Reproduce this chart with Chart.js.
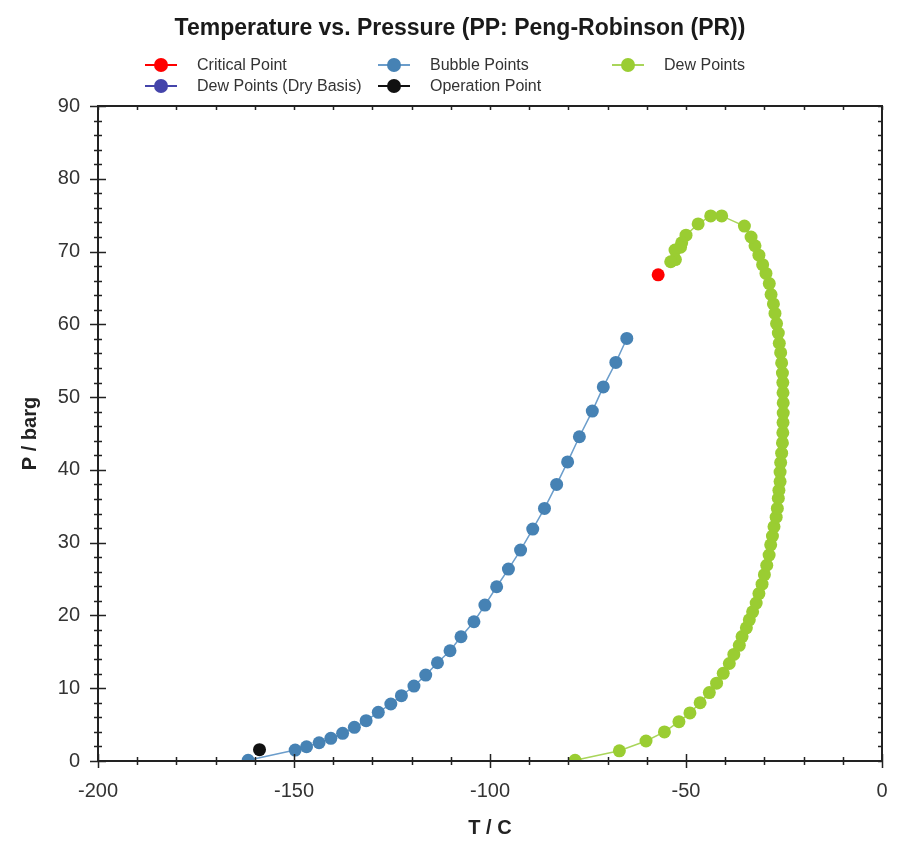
<!DOCTYPE html>
<html>
<head>
<meta charset="utf-8">
<script src="https://cdn.jsdelivr.net/npm/chart.js@4"></script>
<style>
  body { margin: 0; background: #fff; }
  #wrap { position: relative; width: 897px; height: 841px; }
  #title { position: absolute; left: 0; top: 14px; width: 920px; text-align: center;
           font: bold 23px "Liberation Sans", Arial, sans-serif; color: #1a1a1a; }
  .item { position: absolute; display: flex; align-items: center; height: 20px;
          font: 16px "Liberation Sans", Arial, sans-serif; color: #333; white-space: nowrap; }
  .mark { position: relative; width: 32px; height: 14px; margin-right: 20px; }
  .mark .ln { position: absolute; left: 0; right: 0; top: 6px; height: 2px; }
  .mark .dot { position: absolute; left: 9px; top: 0; width: 14px; height: 14px; border-radius: 50%; }
</style>
</head>
<body>
<div id="wrap">
  <canvas id="myChart" width="897" height="841"></canvas>
  <div id="title">Temperature vs. Pressure (PP: Peng-Robinson (PR))</div>
  <div id="legend"></div>
</div>
<script>
// values (T in C, P in barg)
const bubbleT = [-161.7, -149.7, -146.8, -143.6, -140.6, -137.6, -134.6, -131.6, -128.5, -125.3,
                 -122.6, -119.4, -116.4, -113.4, -110.2, -107.4, -104.1, -101.3, -98.3, -95.3,
                 -92.2, -89.1, -86.1, -83.0, -80.2, -77.2, -73.9, -71.1, -67.9, -65.1];
const bubbleP = [0.1, 1.5, 1.96, 2.51, 3.12, 3.8, 4.63, 5.54, 6.69, 7.83,
                 8.97, 10.3, 11.8, 13.5, 15.15, 17.07, 19.13, 21.43, 23.94, 26.37,
                 28.98, 31.87, 34.71, 38.0, 41.1, 44.55, 48.08, 51.4, 54.77, 58.06];

const dewT = [-78.3, -67.0, -60.2, -55.5, -51.8, -49.0, -46.4, -44.05, -42.2, -40.5,
              -38.95, -37.8, -36.4, -35.7, -34.6, -33.85, -33.0, -32.1, -31.4, -30.6,
              -30.0, -29.4, -28.8, -28.4, -27.95, -27.55, -27.0, -26.7, -26.45, -26.3,
              -26.0, -26.0, -25.85, -25.6, -25.4, -25.3, -25.25, -25.2, -25.2, -25.25,
              -25.3, -25.4, -25.6, -25.85, -26.2, -26.45, -26.9, -27.3, -27.7, -28.3,
              -28.75, -29.6, -30.45, -31.4, -32.4, -33.4, -35.1, -40.9, -43.7, -46.9,
              -50.0, -51.1, -51.4, -52.8, -52.7, -53.9];
const dewP = [0.1, 1.4, 2.75, 4.0, 5.4, 6.6, 8.0, 9.4, 10.7, 12.05,
              13.4, 14.65, 15.9, 17.1, 18.3, 19.4, 20.5, 21.7, 23.0, 24.3,
              25.6, 26.9, 28.3, 29.7, 30.9, 32.2, 33.5, 34.7, 36.1, 37.2,
              38.4, 39.7, 41.0, 42.3, 43.7, 45.1, 46.5, 47.8, 49.2, 50.6,
              52.0, 53.3, 54.7, 56.1, 57.4, 58.8, 60.1, 61.5, 62.8, 64.1,
              65.6, 67.0, 68.2, 69.5, 70.8, 72.0, 73.5, 74.9, 74.9, 73.8,
              72.25, 71.2, 70.6, 70.2, 68.9, 68.6];

const criticalT = [-57.1];
const criticalP = [66.8];
const operationT = [-158.8];
const operationP = [1.55];
const dryDewT = [];
const dryDewP = [];

const xTicks = { min: -200, max: 0, major: 50, minor: 10 };
const yTicks = { min: 0, max: 90, major: 10, minor: 2 };

function pts(xs, ys) { return xs.map((v, i) => ({ x: v, y: ys[i] })); }

const COLORS = {
  red: '#ff0000',
  blue: '#4682b4',
  blueLine: '#6b9dcb',
  green: '#9acd32',
  greenLine: '#a9d55a',
  navy: '#4444aa',
  black: '#111111'
};

function series(label, data, color, lineColor, line) {
  return {
    label: label,
    data: data,
    showLine: line,
    clip: 0,
    borderColor: lineColor,
    backgroundColor: color,
    pointBackgroundColor: color,
    pointBorderColor: color,
    pointBorderWidth: 0,
    pointRadius: 6.5,
    pointHoverRadius: 6.5,
    borderWidth: 1.5
  };
}

const data = {
  datasets: [
    series('Critical Point', pts(criticalT, criticalP), COLORS.red, COLORS.red, false),
    series('Bubble Points', pts(bubbleT, bubbleP), COLORS.blue, COLORS.blueLine, true),
    series('Dew Points', pts(dewT, dewP), COLORS.green, COLORS.greenLine, true),
    series('Dew Points (Dry Basis)', pts(dryDewT, dryDewP), COLORS.navy, COLORS.navy, true),
    series('Operation Point', pts(operationT, operationP), COLORS.black, COLORS.black, false)
  ]
};

// frame plus major/minor tick marks on all four sides
const frameTicks = {
  id: 'frameTicks',
  afterDraw(chart) {
    const { ctx, chartArea: a, scales: { x, y } } = chart;
    ctx.save();
    ctx.strokeStyle = '#222';
    ctx.lineWidth = 1.5;
    ctx.beginPath();
    for (let v = xTicks.min; v <= xTicks.max; v += xTicks.minor) {
      const px = Math.round(x.getPixelForValue(v)) + 0.5;
      const len = v % xTicks.major === 0 ? 7 : 4;
      ctx.moveTo(px, a.bottom - len); ctx.lineTo(px, a.bottom + len);
      ctx.moveTo(px, a.top); ctx.lineTo(px, a.top + 4);
    }
    for (let v = yTicks.min; v <= yTicks.max; v += yTicks.minor) {
      const py = Math.round(y.getPixelForValue(v)) + 0.5;
      const len = v % yTicks.major === 0 ? 8 : 4;
      ctx.moveTo(a.left - len, py); ctx.lineTo(a.left + len, py);
      ctx.moveTo(a.right, py); ctx.lineTo(a.right - 4, py);
    }
    ctx.stroke();
    ctx.lineWidth = 2;
    ctx.strokeRect(a.left, a.top, a.right - a.left, a.bottom - a.top);
    ctx.restore();
  }
};

const tickFont = { family: '"Liberation Sans", Arial, sans-serif', size: 20 };
const titleFont = { family: '"Liberation Sans", Arial, sans-serif', size: 20, weight: 'bold' };

const config = {
  type: 'scatter',
  data: data,
  options: {
    responsive: false,
    animation: false,
    layout: { padding: { left: 0, right: 15, top: 106, bottom: 0 } },
    plugins: {
      legend: { display: false },
      title: { display: false },
      tooltip: { enabled: false }
    },
    scales: {
      x: {
        type: 'linear',
        min: xTicks.min, max: xTicks.max,
        grid: { display: false, drawTicks: false },
        border: { display: false },
        ticks: { stepSize: xTicks.major, padding: 18, color: '#333', font: tickFont, maxRotation: 0 },
        title: { display: true, text: 'T / C', color: '#222', font: titleFont, padding: { top: 0, bottom: 1 } },
        afterFit: s => { s.height = 80; s.paddingLeft = 0; s.paddingRight = 0; }
      },
      y: {
        type: 'linear',
        min: yTicks.min, max: yTicks.max,
        grid: { display: false, drawTicks: false },
        border: { display: false },
        ticks: { stepSize: yTicks.major, padding: 18, color: '#333', font: tickFont },
        title: { display: true, text: 'P / barg', color: '#222', font: titleFont, padding: { top: 18, bottom: 0 } },
        afterFit: s => { s.width = 98; s.paddingTop = 0; s.paddingBottom = 0; }
      }
    }
  },
  plugins: [frameTicks]
};

const myChart = new Chart(document.getElementById('myChart'), config);

// legend laid out in columns like the original
const legendSpots = [[145, 55], [378, 55], [612, 55], [145, 76], [378, 76]];
const legendEl = document.getElementById('legend');
myChart.data.datasets.forEach((ds, i) => {
  const it = document.createElement('div');
  it.className = 'item';
  it.style.left = legendSpots[i][0] + 'px';
  it.style.top = legendSpots[i][1] + 'px';
  it.innerHTML = '<span class="mark"><span class="ln" style="background:' + ds.borderColor +
    '"></span><span class="dot" style="background:' + ds.pointBackgroundColor +
    '"></span></span><span>' + ds.label + '</span>';
  legendEl.appendChild(it);
});
</script>
</body>
</html>
